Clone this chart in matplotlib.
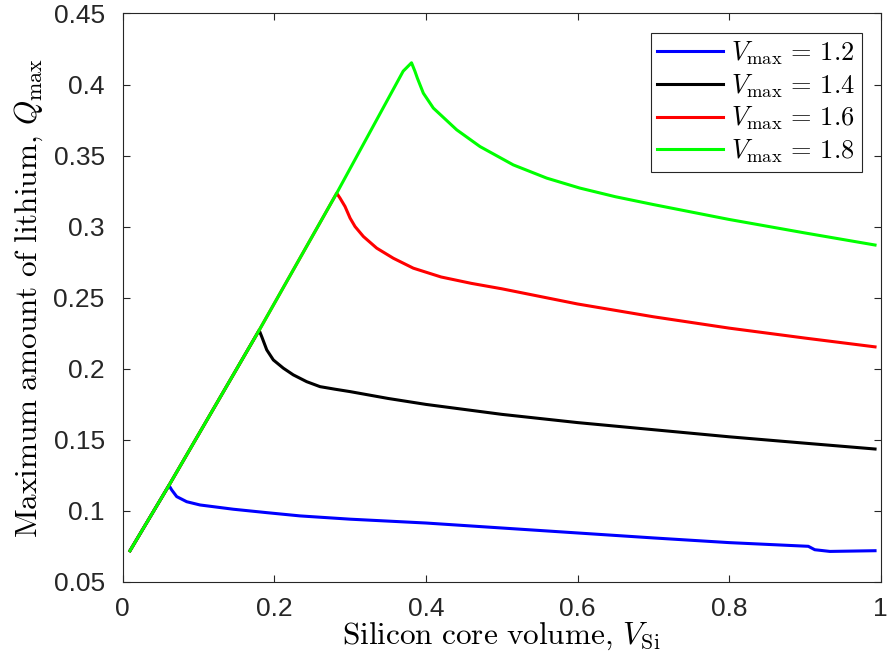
import numpy as np
import matplotlib
matplotlib.use('Agg')
import matplotlib.pyplot as plt
from matplotlib.ticker import FormatStrFormatter

plt.rcParams['mathtext.fontset'] = 'cm'

## DATA
x_blue = [0.0096, 0.061, 0.0646, 0.0712, 0.0844, 0.102, 0.146, 0.19, 0.234, 0.3, 0.4, 0.5, 0.6, 0.7, 0.8, 0.9045, 0.913, 0.933, 0.9925]
q_blue = [0.0718, 0.1178, 0.1146, 0.1099, 0.1063, 0.104, 0.101, 0.0986, 0.0963, 0.0940, 0.0913, 0.0878, 0.0843, 0.0808, 0.0775, 0.0749, 0.0725, 0.0713, 0.0718]

x_black = [0.0096, 0.061, 0.180, 0.1834, 0.190, 0.1987, 0.2119, 0.225, 0.2427, 0.2603, 0.28, 0.3, 0.35, 0.4, 0.5, 0.6, 0.7, 0.8, 0.9, 0.9925]
q_black = [0.0718, 0.1178, 0.227, 0.2225, 0.2132, 0.2061, 0.2003, 0.1956, 0.1908, 0.1873, 0.1855, 0.1838, 0.1790, 0.1748, 0.1678, 0.1620, 0.1570, 0.1520, 0.1475, 0.1434]

x_red = [0.0096, 0.061, 0.180, 0.2823, 0.2867, 0.2933, 0.300, 0.3065, 0.3175, 0.3351, 0.357, 0.3834, 0.42, 0.46, 0.5, 0.6, 0.7, 0.8, 0.9, 0.9925]
q_red = [0.0718, 0.1178, 0.227, 0.3235, 0.3200, 0.3141, 0.3059, 0.3000, 0.2930, 0.2848, 0.2777, 0.2707, 0.2645, 0.2600, 0.2562, 0.2455, 0.2365, 0.2285, 0.2215, 0.2153]

x_green = [0.0096, 0.061, 0.180, 0.2823, 0.370, 0.381, 0.3856, 0.3887, 0.3966, 0.4098, 0.4406, 0.4714, 0.5153, 0.5594, 0.603, 0.65, 0.7, 0.8, 0.9, 0.9925]
q_green = [0.0718, 0.1178, 0.227, 0.3235, 0.4094, 0.4153, 0.4092, 0.4045, 0.3939, 0.3834, 0.3681, 0.3563, 0.3434, 0.3341, 0.3271, 0.3210, 0.3155, 0.3050, 0.2955, 0.287]

vmax = [1.2, 1.4, 1.6, 1.8]

xticks = [0, 0.2, 0.4, 0.6, 0.8, 1]
yticks = [0.05, 0.1, 0.15, 0.2, 0.25, 0.3, 0.35, 0.4, 0.45]

## PLOT
fig = plt.figure(figsize=(8.88, 6.61), dpi=100)
ax = fig.add_axes([0.1382, 0.12, 0.8536, 0.8596])

lw = 2.2
ax.plot(x_blue, q_blue, color=(0, 0, 1), lw=lw)
ax.plot(x_black, q_black, color='k', lw=lw)
ax.plot(x_red, q_red, color=(1, 0, 0), lw=lw)
ax.plot(x_green, q_green, color=(0, 1, 0), lw=lw)

ax.set_xlim(0, 1)
ax.set_ylim(0.05, 0.45)
ax.set_xticks(xticks)
ax.set_yticks(yticks)
ax.xaxis.set_major_formatter(FormatStrFormatter('%g'))
ax.yaxis.set_major_formatter(FormatStrFormatter('%g'))

axcol = (0.15, 0.15, 0.15)
for s in ax.spines.values():
    s.set_color(axcol)
    s.set_linewidth(0.8)
ax.tick_params(direction='in', length=5, width=0.8, color=axcol,
               top=True, right=True, labelsize=19, labelcolor=axcol)
ax.tick_params(axis='x', pad=11)
ax.tick_params(axis='y', pad=13)
for lab in ax.get_xticklabels() + ax.get_yticklabels():
    lab.set_family('Liberation Sans')

ax.set_xlabel(r'$\mathrm{Silicon\ core\ volume,}\,V_{\mathrm{Si}}$', fontsize=22.5, labelpad=0)
ax.set_ylabel(r'$\mathrm{Maximum\ amount\ of\ lithium,}\,Q_{\max}$', fontsize=22.5, labelpad=6)

leg = ax.legend([r'$V_{\max}\,=\,%.1f$' % v for v in vmax],
                loc='upper right', bbox_to_anchor=(0.975, 0.966), borderaxespad=0,
                fontsize=19, fancybox=False, framealpha=1, edgecolor=axcol,
                handlelength=2.5, handletextpad=0.3, borderpad=0.25, labelspacing=0.2)
leg.get_frame().set_linewidth(0.8)

fig.savefig('out.png', dpi=100)
